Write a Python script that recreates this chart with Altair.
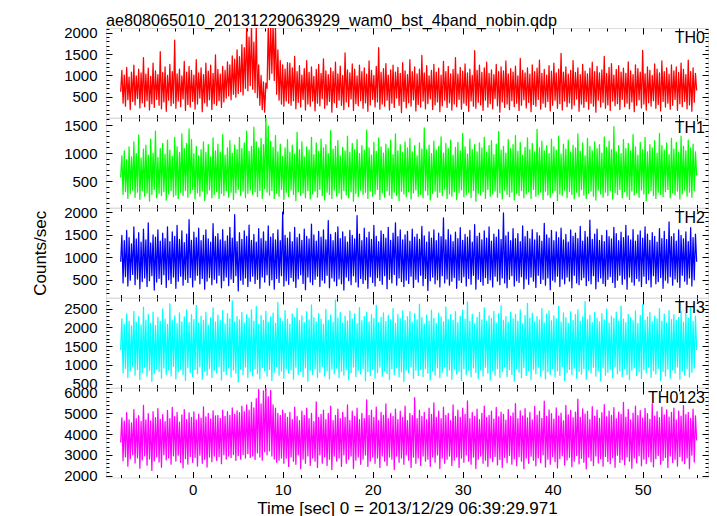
import altair as alt
import pandas as pd

FONT = "Liberation Sans"
T_START = -8.0
T_END = 56.0

th0 = [620, 1120, 350, 1010, 280, 1190, 430, 960, 200, 1080, 390, 1240, 310, 990, 460, 1150, 240, 1060, 360, 1420,
       270, 1030, 410, 1170, 190, 980, 340, 1290, 250, 1110, 440, 1020, 300, 1560, 220, 1070, 380, 1200, 160, 1000,
       420, 1260, 290, 1090, 350, 1830, 230, 1040, 400, 1150, 270, 990, 450, 1330, 180, 1080, 320, 1210, 260, 1120,
       390, 1010, 210, 1370, 330, 1060, 470, 1180, 150, 1020, 360, 1290, 280, 1100, 430, 1240, 200, 1050, 340, 1480,
       300, 1140, 410, 1030, 250, 1210, 380, 1120, 470, 1320, 520, 1250, 430, 1460, 560, 1380, 490, 1600, 580, 1440,
       620, 1720, 540, 1650, 700, 2180, 640, 1900, 760, 2200, 680, 1780, 600, 2150, 480, 1250, 300, 1000, 200, 850,
       140, 820, 700, 2200, 900, 2250, 1050, 2230, 880, 2180, 560, 1600, 420, 1350, 330, 1250, 280, 1150, 400, 1300,
       350, 1290, 300, 1180, 410, 1450, 220, 1090, 370, 1230, 260, 1010, 440, 1160, 190, 1350, 330, 1070, 280, 1200,
       400, 980, 170, 1140, 350, 1260, 290, 1050, 460, 1390, 230, 1110, 310, 1020, 390, 1180, 140, 1090, 360, 1310,
       250, 1040, 420, 1220, 300, 1000, 200, 1530, 380, 1130, 270, 1060, 450, 1270, 180, 1150, 340, 990, 290, 1240,
       410, 1090, 230, 1180, 360, 1030, 160, 1340, 310, 1120, 440, 1000, 260, 1210, 380, 1650, 210, 1070, 330, 1160,
       280, 1280, 420, 1010, 190, 1130, 350, 1240, 250, 1080, 470, 1190, 300, 1050, 130, 1300, 390, 1110, 240, 1020,
       360, 1370, 280, 1090, 430, 1200, 170, 1040, 320, 1150, 260, 1470, 400, 1060, 220, 1230, 340, 990, 450, 1120,
       200, 1260, 310, 1080, 380, 1170, 150, 1010, 290, 1330, 420, 1090, 250, 1210, 360, 1040, 190, 1140, 330, 1420,
       270, 1030, 440, 1190, 210, 1100, 350, 1270, 300, 1060, 160, 1150, 400, 1000, 280, 1580, 230, 1120, 370, 1240,
       310, 1070, 180, 1180, 420, 1310, 260, 1050, 340, 1130, 220, 1020, 460, 1260, 290, 1090, 140, 1200, 380, 1110,
       250, 1340, 330, 1040, 200, 1160, 410, 1080, 270, 1220, 350, 990, 180, 1400, 300, 1120, 430, 1060, 240, 1180,
       370, 1030, 150, 1250, 320, 1090, 280, 1170, 440, 1360, 210, 1050, 350, 1140, 260, 1010, 390, 1230, 170, 1100,
       300, 1290, 420, 1060, 230, 1150, 340, 1520, 190, 1080, 400, 1200, 270, 1030, 360, 1120, 220, 1350, 310, 1070,
       450, 1180, 160, 1020, 330, 1260, 250, 1100, 390, 1040, 210, 1170, 350, 1310, 280, 1090, 140, 1210, 420, 1060,
       260, 1130, 370, 1450, 230, 1050, 310, 1190, 180, 1280, 400, 1010, 290, 1140, 340, 1230, 200, 1080, 440, 1170,
       270, 1050, 350, 1320, 220, 1110, 380, 1020, 150, 1250, 300, 1160, 430, 1080, 240, 1590, 330, 1040, 190, 1200,
       360, 1120, 280, 1000, 410, 1270, 230, 1150, 320, 1060, 170, 1340, 390, 1090, 260, 1180, 350, 1030, 210, 1250,
       300, 1110, 440, 1200, 180, 1070, 340, 1290, 270, 1140, 390, 1020, 220, 1360, 310, 1090, 160, 1180, 370, 1050,
       650]

th1 = [560, 950, 260, 1040, 310, 880, 190, 1110, 280, 930, 340, 1200, 210, 990, 300, 1320, 170, 910, 330, 1070,
       230, 1140, 290, 960, 140, 1250, 260, 1000, 350, 1390, 200, 920, 280, 1080, 240, 1170, 310, 980, 160, 1230,
       270, 1050, 330, 940, 220, 1280, 250, 1110, 190, 1010, 300, 1340, 240, 1080, 330, 1170, 210, 1430, 280, 1240,
       350, 990, 180, 1120, 290, 950, 230, 1060, 320, 1200, 150, 1010, 270, 1150, 340, 930, 200, 1270, 260, 1040,
       310, 1160, 190, 1010, 280, 1330, 240, 960, 330, 1090, 210, 1220, 300, 1000, 170, 1140, 290, 1060, 350, 1280,
       240, 1080, 320, 1180, 200, 1390, 280, 1030, 340, 1120, 260, 1460, 310, 1200, 220, 1090, 330, 1260, 190, 1150,
       360, 1660, 300, 1480, 250, 1210, 330, 1100, 190, 1310, 280, 1020, 230, 1160, 350, 940, 170, 1090, 300, 1240,
       220, 1010, 340, 1140, 260, 980, 150, 1370, 310, 1060, 240, 1200, 290, 930, 200, 1110, 330, 1050, 180, 1280,
       270, 970, 320, 1180, 210, 1030, 350, 1250, 240, 1090, 160, 1150, 300, 990, 260, 1400, 190, 1070, 340, 1120,
       230, 1220, 290, 950, 180, 1100, 330, 1040, 250, 1300, 200, 1010, 310, 1170, 140, 1060, 280, 1240, 220, 990,
       340, 1130, 260, 1050, 300, 1410, 190, 1090, 320, 960, 230, 1190, 270, 1030, 350, 1270, 170, 1110, 290, 1000,
       210, 1160, 330, 1080, 250, 1230, 190, 970, 300, 1340, 240, 1040, 150, 1150, 320, 1010, 270, 1200, 220, 1090,
       310, 1260, 180, 1020, 290, 1130, 340, 950, 230, 1180, 260, 1070, 200, 1450, 330, 1060, 250, 1140, 160, 990,
       280, 1210, 320, 1050, 210, 1120, 300, 1290, 240, 1000, 350, 1170, 190, 1080, 270, 1230, 230, 960, 310, 1100,
       170, 1190, 290, 1040, 340, 1350, 220, 1110, 260, 980, 300, 1250, 200, 1060, 330, 1150, 140, 1020, 280, 1180,
       250, 1090, 310, 1280, 190, 1010, 350, 1130, 230, 1220, 270, 970, 320, 1160, 210, 1380, 290, 1050, 180, 1120,
       340, 1000, 260, 1240, 220, 1080, 300, 1150, 160, 1310, 280, 1030, 240, 1190, 330, 960, 200, 1100, 270, 1270,
       310, 1060, 190, 1170, 350, 1020, 230, 1420, 260, 1090, 300, 1210, 170, 1040, 320, 1130, 250, 990, 210, 1250,
       290, 1110, 330, 1050, 150, 1300, 270, 980, 240, 1160, 340, 1070, 200, 1230, 310, 1010, 260, 1140, 180, 1090,
       300, 1340, 220, 1030, 350, 1180, 250, 950, 190, 1260, 280, 1120, 320, 1040, 230, 1200, 160, 1080, 340, 1150,
       270, 1000, 210, 1290, 300, 1100, 240, 1210, 330, 1060, 180, 1470, 290, 1020, 260, 1130, 350, 990, 200, 1240,
       310, 1080, 230, 1170, 170, 1040, 320, 1330, 250, 1110, 290, 960, 210, 1190, 340, 1060, 270, 1280, 150, 1020,
       280, 1150, 330, 1090, 240, 1220, 190, 1000, 300, 1350, 260, 1130, 220, 1050, 310, 1180, 350, 970, 200, 1260,
       290, 1070, 250, 1190, 320, 1010, 180, 1300, 270, 1120, 340, 1040, 230, 1230, 300, 1090, 210, 1160, 330, 1020,
       600]

th2 = [900, 1490, 430, 1370, 570, 1600, 360, 1440, 490, 1300, 620, 1680, 390, 1410, 520, 1550, 300, 1340, 460, 1630,
       540, 1390, 350, 1770, 480, 1320, 590, 1500, 270, 1450, 450, 1610, 530, 1360, 400, 1540, 610, 1420, 330, 1680,
       500, 1350, 420, 1570, 560, 1470, 310, 1710, 470, 1400, 580, 1590, 380, 1330, 510, 1520, 440, 1840, 550, 1380,
       340, 1560, 490, 1440, 600, 1650, 410, 1370, 530, 1490, 290, 1610, 470, 1410, 550, 1340, 390, 1750, 510, 1460,
       430, 1530, 600, 1390, 320, 1620, 480, 1360, 560, 1480, 370, 1670, 520, 1430, 440, 1950, 590, 1350, 250, 1550,
       490, 1400, 400, 1590, 540, 1470, 350, 1720, 470, 1380, 580, 1510, 420, 1340, 510, 1640, 310, 1420, 560, 1570,
       450, 1360, 610, 1700, 380, 1450, 500, 1530, 290, 1390, 530, 1610, 440, 1370, 590, 2010, 360, 1490, 480, 1430,
       400, 1560, 550, 1350, 470, 1670, 330, 1440, 520, 1520, 610, 1380, 420, 1630, 280, 1470, 560, 1410, 450, 1740,
       390, 1500, 510, 1360, 580, 1580, 350, 1450, 490, 1610, 430, 1390, 600, 1820, 320, 1510, 540, 1370, 470, 1550,
       370, 1680, 520, 1420, 410, 1570, 270, 1460, 560, 1340, 480, 1600, 390, 1490, 590, 1410, 450, 1930, 340, 1520,
       530, 1370, 420, 1650, 500, 1440, 310, 1560, 570, 1400, 440, 1710, 360, 1470, 550, 1350, 480, 1590, 400, 1510,
       590, 1430, 300, 1670, 510, 1380, 430, 1540, 620, 1770, 380, 1460, 540, 1610, 460, 1390, 350, 1500, 490, 1580,
       420, 1360, 580, 1630, 330, 1450, 510, 1520, 450, 1400, 600, 1690, 370, 1480, 530, 1340, 260, 1570, 480, 1430,
       560, 1610, 410, 1370, 500, 1540, 340, 1460, 590, 1880, 430, 1390, 520, 1620, 380, 1500, 470, 1350, 550, 1560,
       310, 1420, 490, 1660, 440, 1380, 570, 1510, 360, 1450, 530, 1600, 400, 1340, 600, 1730, 290, 1470, 510, 1540,
       460, 1390, 380, 1590, 550, 1430, 420, 1680, 500, 1360, 340, 1520, 580, 1450, 470, 1620, 390, 1400, 540, 1990,
       430, 1480, 320, 1560, 510, 1370, 590, 1640, 360, 1420, 480, 1530, 440, 1350, 570, 1700, 300, 1460, 520, 1580,
       400, 1410, 560, 1620, 470, 1390, 330, 1550, 600, 1480, 420, 1360, 510, 1760, 380, 1500, 540, 1430, 280, 1600,
       490, 1370, 450, 1570, 580, 1440, 350, 1650, 520, 1390, 410, 1510, 560, 1340, 470, 1610, 320, 1470, 600, 1540,
       430, 1420, 390, 1690, 500, 1360, 550, 1580, 370, 1450, 480, 1830, 410, 1400, 590, 1520, 300, 1630, 460, 1380,
       540, 1490, 420, 1350, 360, 1600, 510, 1460, 570, 1410, 440, 1670, 330, 1530, 490, 1370, 600, 1560, 400, 1440,
       520, 1710, 290, 1480, 560, 1390, 450, 1620, 380, 1360, 530, 1500, 470, 1590, 350, 1430, 580, 1680, 420, 1520,
       500, 1380, 340, 1550, 590, 1470, 410, 1340, 460, 1640, 550, 1420, 310, 1580, 490, 1400, 430, 1790, 570, 1460,
       380, 1530, 520, 1360, 450, 1610, 330, 1490, 600, 1410, 470, 1570, 400, 1350, 540, 1660, 360, 1440, 500, 1520,
       900]

th3 = [1400, 2230, 790, 2080, 910, 2360, 660, 2170, 850, 2040, 970, 2430, 730, 2140, 880, 2290, 610, 2070, 810, 2540,
       940, 2190, 700, 2350, 860, 2110, 570, 2410, 770, 2050, 900, 2270, 830, 2160, 650, 2490, 920, 2220, 740, 2080,
       870, 2630, 710, 2180, 960, 2310, 630, 2100, 820, 2390, 890, 2150, 750, 2280, 590, 2470, 930, 2130, 800, 2340,
       690, 2210, 880, 2580, 770, 2120, 950, 2300, 620, 2190, 840, 2410, 730, 2060, 910, 2260, 670, 2520, 860, 2140,
       790, 2330, 960, 2180, 600, 2450, 830, 2090, 750, 2370, 920, 2230, 680, 2710, 870, 2150, 780, 2290, 550, 2200,
       890, 2400, 740, 2120, 950, 2340, 660, 2250, 820, 2470, 710, 2170, 900, 2560, 770, 2080, 630, 2320, 930, 2190,
       850, 2430, 700, 2140, 880, 2280, 590, 2380, 810, 2110, 960, 2670, 730, 2240, 840, 2160, 650, 2450, 910, 2220,
       780, 2090, 870, 2360, 620, 2270, 940, 2510, 750, 2180, 830, 2310, 690, 2130, 920, 2420, 570, 2200, 860, 2600,
       740, 2260, 900, 2150, 670, 2370, 810, 2230, 960, 2080, 710, 2480, 850, 2190, 630, 2330, 890, 2140, 770, 2730,
       920, 2250, 660, 2400, 840, 2120, 730, 2300, 880, 2170, 610, 2440, 800, 2220, 950, 2360, 690, 2100, 860, 2530,
       760, 2180, 910, 2290, 580, 2410, 830, 2150, 720, 2340, 890, 2240, 650, 2590, 800, 2130, 940, 2270, 700, 2390,
       850, 2160, 770, 2320, 610, 2210, 900, 2500, 740, 2110, 930, 2350, 680, 2230, 820, 2440, 560, 2180, 870, 2290,
       790, 2420, 950, 2140, 640, 2370, 860, 2200, 720, 2620, 880, 2260, 690, 2090, 910, 2330, 780, 2170, 600, 2460,
       840, 2240, 730, 2110, 920, 2380, 660, 2280, 810, 2150, 950, 2550, 700, 2210, 870, 2340, 620, 2190, 890, 2420,
       760, 2130, 830, 2300, 590, 2460, 900, 2220, 740, 2680, 860, 2170, 680, 2350, 920, 2100, 800, 2270, 640, 2400,
       870, 2200, 710, 2520, 940, 2160, 780, 2310, 600, 2240, 850, 2430, 730, 2120, 910, 2370, 670, 2580, 820, 2190,
       950, 2290, 690, 2140, 880, 2410, 750, 2230, 570, 2350, 900, 2170, 810, 2470, 660, 2100, 930, 2320, 720, 2640,
       840, 2250, 610, 2380, 890, 2150, 770, 2290, 940, 2200, 700, 2500, 860, 2120, 630, 2360, 820, 2440, 750, 2180,
       910, 2310, 680, 2230, 850, 2560, 720, 2140, 960, 2390, 590, 2260, 800, 2110, 880, 2420, 740, 2190, 920, 2340,
       650, 2470, 830, 2160, 760, 2280, 900, 2690, 620, 2210, 870, 2330, 790, 2130, 940, 2400, 700, 2250, 850, 2150,
       580, 2370, 920, 2200, 730, 2490, 810, 2120, 890, 2300, 660, 2240, 950, 2410, 770, 2170, 840, 2570, 690, 2220,
       900, 2130, 750, 2350, 610, 2260, 860, 2180, 930, 2440, 720, 2110, 820, 2320, 640, 2610, 880, 2190, 790, 2280,
       940, 2400, 670, 2150, 850, 2300, 760, 2230, 910, 2500, 590, 2170, 830, 2360, 710, 2120, 890, 2450, 650, 2210,
       870, 2340, 780, 2190, 950, 2270, 620, 2420, 840, 2140, 730, 2380, 900, 2250, 680, 2530, 810, 2160, 920, 2300,
       1400]

th0123 = [3600, 4780, 2720, 4630, 2910, 5030, 2460, 4690, 2820, 4540, 3010, 5180, 2610, 4740, 2860, 4890, 2360, 4610, 2760, 5380,
          2960, 4690, 2510, 4990, 2810, 4640, 2260, 5080, 2710, 4790, 2910, 5230, 2660, 4710, 2410, 4940, 3010, 4600, 2760, 5140,
          2860, 4740, 2560, 5290, 2960, 4840, 2710, 5040, 2990, 4580, 2640, 4920, 2380, 5180, 2830, 4700, 2560, 5020, 2930, 4810,
          2650, 5070, 2880, 4690, 2470, 4960, 2990, 4770, 2600, 5310, 2790, 4830, 2420, 5000, 2900, 4730, 2680, 5120, 2950, 4880,
          2740, 4900, 2920, 4760, 2580, 5150, 3010, 4850, 2800, 5080, 2950, 4900, 2870, 5260, 3020, 4950, 2740, 5120, 2980, 5030,
          2800, 5340, 3020, 5080, 2850, 5400, 3060, 5150, 2880, 5520, 2950, 5260, 2780, 5700, 3100, 6150, 2900, 5450, 2750, 6080,
          3150, 6200, 3000, 5800, 3200, 6100, 2950, 5400, 2800, 5250, 2650, 5000, 2750, 4900, 2850, 5150, 2600, 5000, 2850, 4800,
          2450, 5050, 2900, 4700, 2700, 5300, 2550, 4850, 3000, 4650, 2350, 5100, 2800, 4900, 2600, 5250, 2950, 4750, 2500, 5000,
          2850, 4600, 2700, 5550, 2400, 4800, 3000, 4950, 2600, 5150, 2900, 4700, 2500, 5000, 2800, 5350, 2300, 4650, 2950, 4900,
          2700, 5200, 2850, 4750, 2450, 5050, 3000, 4800, 2600, 5400, 2800, 4650, 2950, 5100, 2350, 4850, 2750, 5250, 2900, 4700,
          2550, 5000, 2800, 4750, 3000, 5650, 2450, 4900, 2700, 5150, 2900, 4800, 2600, 5300, 2850, 4650, 2400, 5050, 2950, 4900,
          2700, 5450, 2500, 4750, 2900, 5000, 2800, 4850, 2300, 5200, 2950, 4700, 2650, 5100, 2850, 4800, 2550, 5350, 3000, 4650,
          2750, 5000, 2400, 4900, 2900, 5750, 2600, 4750, 2850, 5150, 2500, 4850, 2950, 5050, 2700, 4700, 2800, 5250, 2450, 4950,
          2900, 5500, 2650, 4800, 3000, 5100, 2350, 4750, 2850, 5300, 2600, 4900, 2800, 5000, 2950, 4650, 2500, 5400, 2750, 4850,
          2900, 5150, 2400, 4800, 2850, 5250, 2650, 4950, 3000, 5600, 2700, 4750, 2550, 5050, 2900, 4850, 2350, 5200, 2800, 4700,
          2950, 5000, 2600, 5350, 2750, 4800, 2450, 4900, 2850, 5100, 2680, 4720, 2930, 5280, 2520, 4830, 2780, 5060, 2400, 4950,
          2880, 4670, 2630, 5180, 2970, 4860, 2560, 5020, 2810, 5470, 2490, 4740, 2910, 5120, 2700, 4880, 2340, 5230, 2850, 4780,
          2600, 5040, 2940, 4690, 2750, 5330, 2480, 4910, 2860, 5090, 2630, 4760, 3000, 5580, 2420, 4850, 2790, 5170, 2550, 4990,
          2920, 4720, 2680, 5260, 2380, 4880, 2830, 5010, 2960, 4640, 2510, 5380, 2760, 4920, 2890, 5140, 2440, 4790, 2700, 5060,
          2980, 5680, 2570, 4810, 2840, 5210, 2650, 4960, 2330, 5090, 2900, 4700, 2720, 5320, 2490, 4870, 2950, 5150, 2610, 4760,
          2810, 5030, 2460, 5420, 2930, 4830, 2690, 5110, 2580, 4900, 2870, 5270, 2410, 4740, 2990, 5060, 2640, 4950, 2780, 5520,
          2530, 4820, 2900, 5190, 2700, 4680, 2360, 5010, 2850, 5340, 2620, 4890, 2960, 5130, 2480, 4770, 2800, 5240, 2590, 4980,
          2910, 4710, 2670, 5460, 2430, 4860, 2820, 5080, 2980, 4790, 2550, 5300, 2740, 4930, 2880, 5160, 2400, 4820, 2950, 5050,
          2640, 5250, 2790, 4690, 2470, 5110, 2920, 4870, 2710, 5370, 2580, 4940, 2860, 5040, 2350, 4760, 2990, 5200, 2660, 4880,
          3700]

series = [th0, th1, th2, th3, th0123]
panel_names = ["TH0", "TH1", "TH2", "TH3", "TH0123"]
panel_colors = ["#ff0000", "#00ff00", "#0000ff", "#00ffff", "#ff00ff"]
y_domains = [[15, 2112], [27, 1625], [105, 2100], [400, 2785], [1918, 6216]]
y_major = [[500, 1000, 1500, 2000], [500, 1000, 1500], [500, 1000, 1500, 2000],
           [500, 1000, 1500, 2000, 2500], [2000, 3000, 4000, 5000, 6000]]
y_minor_step = [100, 100, 100, 100, 200]
x_domain = [-9.63, 57.26]
x_major = [0, 10, 20, 30, 40, 50]
x_minor = list(range(-8, 57, 2))
title_text = "ae808065010_20131229063929_wam0_bst_4band_nobin.qdp"
x_title = "Time [sec] 0 = 2013/12/29 06:39:29.971"
y_title = "Counts/sec"

W = 602
H = 89.5


def minor_vals(dom, step):
    start = int(dom[0] // step + 1) * step
    return list(range(start, int(dom[1]) + 1, step))


def make_panel(k):
    vals = series[k]
    n = len(vals)
    times = [T_START + i * (T_END - T_START) / (n - 1) for i in range(n)]
    df = pd.DataFrame({"t": times, "rate": vals})
    xs = alt.Scale(domain=x_domain, nice=False, zero=False)
    ys = alt.Scale(domain=y_domains[k], nice=False, zero=False)
    last = k == 4
    base = alt.Chart(df)

    def xax(orient, values, size, labels, title):
        kw = dict(orient=orient, values=values, tickSize={"expr": str(-size)},
                  labels=labels, domain=False, grid=False, tickColor="black",
                  tickWidth=1, labelFont=FONT, labelFontSize=15, labelColor="black",
                  labelPadding=11, labelFlush=False, labelOverlap=False, format="d",
                  title=title)
        if title:
            kw.update(titleFont=FONT, titleFontSize=17, titleFontWeight="normal",
                      titleColor="black", titlePadding=3)
        return alt.Axis(**kw)

    def yax(orient, values, size, labels, title):
        kw = dict(orient=orient, values=values, tickSize={"expr": str(-size)},
                  labels=labels, domain=False, grid=False, tickColor="black",
                  tickWidth=1, labelFont=FONT, labelFontSize=15, labelColor="black",
                  labelPadding=15, labelOverlap=False, format="d", title=title)
        if title:
            kw.update(titleFont=FONT, titleFontSize=17, titleFontWeight="normal",
                      titleColor="black", titlePadding=14)
        return alt.Axis(**kw)

    ymin = minor_vals(y_domains[k], y_minor_step[k])

    line = base.mark_line(color=panel_colors[k], strokeWidth=1.25, clip=True,
                          strokeJoin="round").encode(
        x=alt.X("t:Q", scale=xs, axis=xax("bottom", x_major, 6, last, x_title if last else None)),
        y=alt.Y("rate:Q", scale=ys, axis=yax("left", y_major[k], 6, True, y_title if k == 2 else None)),
    )
    minor1 = base.mark_line(opacity=0, clip=True).encode(
        x=alt.X("t:Q", scale=xs, axis=xax("bottom", x_minor, 3, False, None)),
        y=alt.Y("rate:Q", scale=ys, axis=yax("left", ymin, 3, False, None)),
    )
    major2 = base.mark_line(opacity=0, clip=True).encode(
        x=alt.X("t:Q", scale=xs, axis=xax("top", x_major, 6, False, None)),
        y=alt.Y("rate:Q", scale=ys, axis=yax("right", y_major[k], 6, False, None)),
    )
    minor2 = base.mark_line(opacity=0, clip=True).encode(
        x=alt.X("t:Q", scale=xs, axis=xax("top", x_minor, 3, False, None)),
        y=alt.Y("rate:Q", scale=ys, axis=yax("right", ymin, 3, False, None)),
    )
    lab = alt.Chart(pd.DataFrame({"name": [panel_names[k]]})).mark_text(
        align="right", baseline="middle", font=FONT, fontSize=16, color="black"
    ).encode(x=alt.value(W - 3), y=alt.value(10), text="name:N")

    ch = alt.layer(line, minor1, major2, minor2, lab).resolve_axis(
        x="independent", y="independent").properties(width=W, height=H)
    if k == 0:
        ch = ch.properties(title=alt.TitleParams(
            title_text, anchor="start", frame="group", font=FONT, fontSize=16.2,
            fontWeight="normal", color="black", offset=-3))
    return ch


chart = alt.vconcat(*[make_panel(k) for k in range(5)], spacing=0, bounds="flush").configure_view(
    stroke="black", strokeWidth=1
).configure(background="white", padding={"left": 23, "top": 4, "right": 0, "bottom": 0})

chart.save("out.html", embed_options={"renderer": "svg", "actions": False})
